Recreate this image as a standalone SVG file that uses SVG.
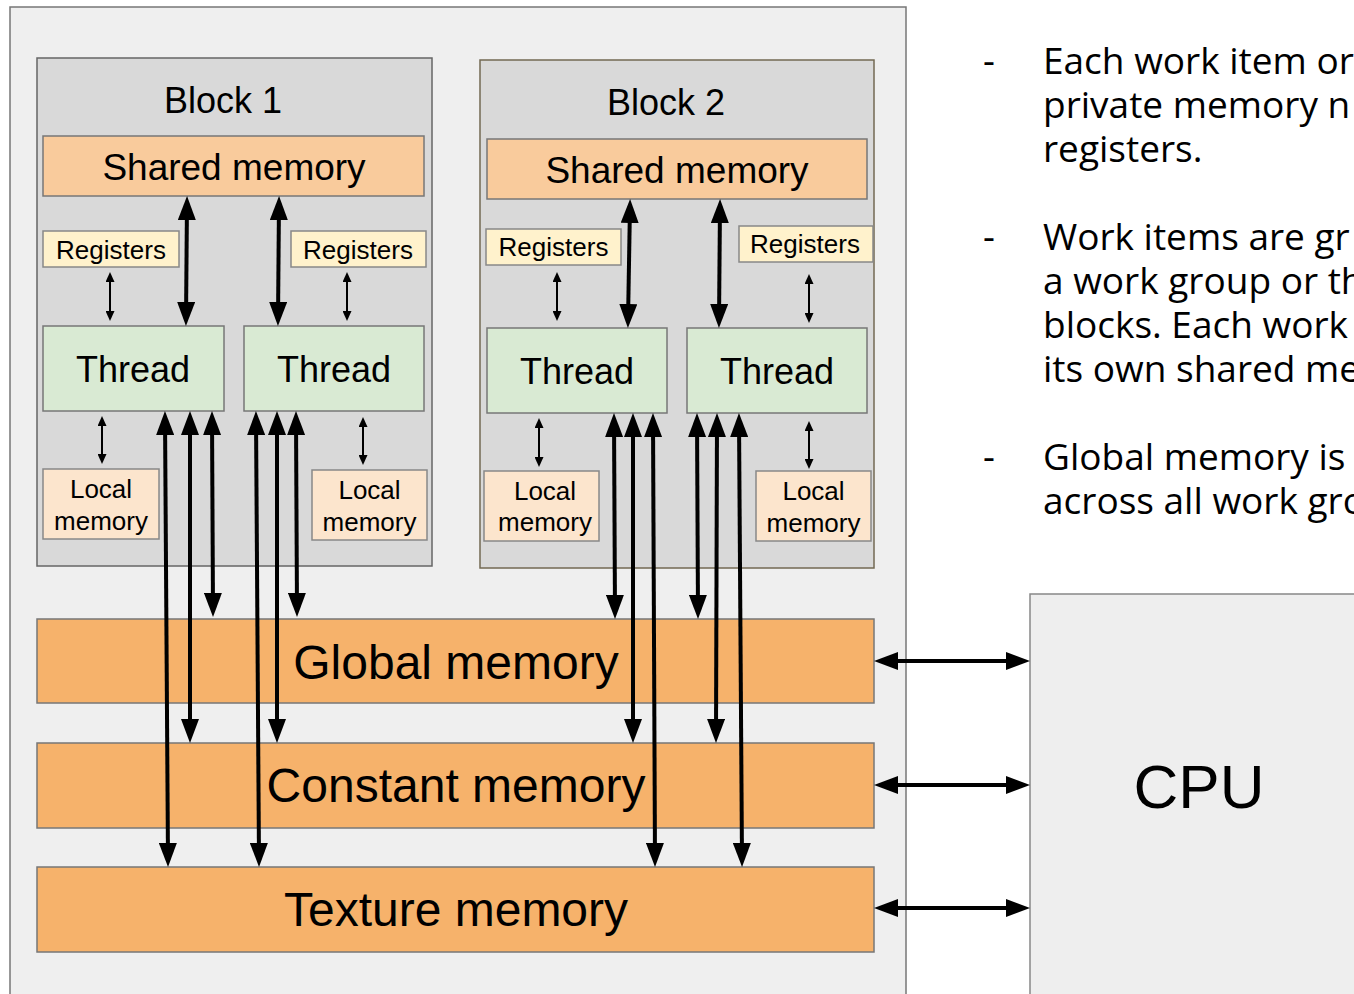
<svg xmlns="http://www.w3.org/2000/svg" width="1354" height="994" viewBox="0 0 1354 994">
  <defs>
    <style>
      .lbl { font-family: "Liberation Sans", Arial, sans-serif; fill: #000; text-anchor: middle; }
      .note { font-family: "Open Sans", "Noto Sans", sans-serif; font-size: 37px; fill: #000; }
      .gpu { fill: #efefef; stroke: #777; stroke-width: 1.5; }
      .block { fill: #d9d9d9; stroke: #666; stroke-width: 1.5; }
      .shared { fill: #f9cb9c; stroke: #777; stroke-width: 1.5; }
      .reg { fill: #fff2cc; stroke: #888; stroke-width: 1.5; }
      .thread { fill: #d9ead3; stroke: #777; stroke-width: 1.5; }
      .local { fill: #fce5cd; stroke: #888; stroke-width: 1.5; }
      .mem { fill: #f6b26b; stroke: #777; stroke-width: 1.5; }
      .cpu { fill: #eeeeee; stroke: #888; stroke-width: 1.5; }
      .big { stroke: #000; stroke-width: 4; fill: none; marker-start: url(#headBig); marker-end: url(#headBig); }
      .small { stroke: #000; stroke-width: 2; fill: none; marker-start: url(#headSmall); marker-end: url(#headSmall); }
    </style>
    <marker id="headBig" markerUnits="userSpaceOnUse" markerWidth="24" markerHeight="18" refX="18" refY="9" orient="auto-start-reverse">
      <path d="M0,0 L24,9 L0,18 z" fill="#000"/>
    </marker>
    <marker id="headSmall" markerUnits="userSpaceOnUse" markerWidth="10" markerHeight="9" refX="7" refY="4.5" orient="auto-start-reverse">
      <path d="M0,0 L10,4.5 L0,9 z" fill="#000"/>
    </marker>
  </defs>

  <rect width="1354" height="994" fill="#ffffff"/>

  <!-- GPU enclosure -->
  <g id="gpu">
    <rect class="gpu" x="10" y="7" width="896" height="1000"/>
  </g>

  <!-- Block 1 -->
  <g id="block1">
    <rect class="block" x="37" y="58" width="395" height="508"/>
    <text class="lbl" x="223" y="113" font-size="36">Block 1</text>
  </g>
  <g id="shared1">
    <rect class="shared" x="43" y="136" width="381" height="60"/>
    <text class="lbl" x="234" y="180" font-size="37">Shared memory</text>
  </g>
  <g id="reg1a">
    <rect class="reg" x="43" y="231" width="136" height="36"/>
    <text class="lbl" x="111" y="259" font-size="26">Registers</text>
  </g>
  <g id="reg1b">
    <rect class="reg" x="291" y="231" width="135" height="36"/>
    <text class="lbl" x="358" y="259" font-size="26">Registers</text>
  </g>
  <g id="thread1a">
    <rect class="thread" x="43" y="326" width="181" height="85"/>
    <text class="lbl" x="133" y="382" font-size="36">Thread</text>
  </g>
  <g id="thread1b">
    <rect class="thread" x="244" y="326" width="180" height="85"/>
    <text class="lbl" x="334" y="382" font-size="36">Thread</text>
  </g>
  <g id="local1a">
    <rect class="local" x="43" y="469" width="116" height="70"/>
    <text class="lbl" x="101" y="498" font-size="26">Local</text>
    <text class="lbl" x="101" y="530" font-size="26">memory</text>
  </g>
  <g id="local1b">
    <rect class="local" x="312" y="470" width="115" height="70"/>
    <text class="lbl" x="369.5" y="499" font-size="26">Local</text>
    <text class="lbl" x="369.5" y="531" font-size="26">memory</text>
  </g>

  <!-- Block 2 -->
  <g id="block2">
    <rect class="block" x="480" y="60" width="394" height="508" style="stroke:#736953"/>
    <text class="lbl" x="666" y="115" font-size="36">Block 2</text>
  </g>
  <g id="shared2">
    <rect class="shared" x="487" y="139" width="380" height="60"/>
    <text class="lbl" x="677" y="183" font-size="37">Shared memory</text>
  </g>
  <g id="reg2a">
    <rect class="reg" x="486" y="229" width="135" height="36"/>
    <text class="lbl" x="553.5" y="256" font-size="26">Registers</text>
  </g>
  <g id="reg2b">
    <rect class="reg" x="739" y="226" width="134" height="36"/>
    <text class="lbl" x="805" y="253" font-size="26">Registers</text>
  </g>
  <g id="thread2a">
    <rect class="thread" x="487" y="328" width="180" height="85"/>
    <text class="lbl" x="577" y="384" font-size="36">Thread</text>
  </g>
  <g id="thread2b">
    <rect class="thread" x="687" y="328" width="180" height="85"/>
    <text class="lbl" x="777" y="384" font-size="36">Thread</text>
  </g>
  <g id="local2a">
    <rect class="local" x="484" y="471" width="115" height="70"/>
    <text class="lbl" x="545" y="500" font-size="26">Local</text>
    <text class="lbl" x="545" y="531" font-size="26">memory</text>
  </g>
  <g id="local2b">
    <rect class="local" x="756" y="471" width="115" height="70"/>
    <text class="lbl" x="813.5" y="500" font-size="26">Local</text>
    <text class="lbl" x="813.5" y="532" font-size="26">memory</text>
  </g>

  <!-- Device-wide memories -->
  <g id="global">
    <rect class="mem" x="37" y="619" width="837" height="84"/>
    <text class="lbl" x="456" y="679" font-size="48">Global memory</text>
  </g>
  <g id="constant">
    <rect class="mem" x="37" y="743" width="837" height="85"/>
    <text class="lbl" x="456" y="802" font-size="48">Constant memory</text>
  </g>
  <g id="texture">
    <rect class="mem" x="37" y="867" width="837" height="85"/>
    <text class="lbl" x="456" y="926" font-size="48">Texture memory</text>
  </g>

  <!-- Host -->
  <g id="cpu">
    <rect class="cpu" x="1030" y="594" width="340" height="420"/>
    <text class="lbl" x="1199" y="808" font-size="62">CPU</text>
  </g>

  <!-- Connectors (line ends sit 6px / 3px short of the targets; heads reach them) -->
  <g id="connectors">
    <!-- shared memory <-> threads -->
    <line class="big" x1="187" y1="202" x2="186" y2="320"/>
    <line class="big" x1="279" y1="202" x2="278" y2="320"/>
    <line class="big" x1="630" y1="205" x2="628" y2="322"/>
    <line class="big" x1="720" y1="205" x2="719" y2="322"/>

    <!-- registers <-> threads -->
    <line class="small" x1="110" y1="275" x2="110" y2="318"/>
    <line class="small" x1="347" y1="275" x2="347" y2="318"/>
    <line class="small" x1="557" y1="275" x2="557" y2="318"/>
    <line class="small" x1="809" y1="277" x2="809" y2="320"/>

    <!-- threads <-> local memory -->
    <line class="small" x1="102" y1="419" x2="102" y2="461"/>
    <line class="small" x1="363" y1="420" x2="363" y2="462"/>
    <line class="small" x1="539" y1="421" x2="539" y2="464"/>
    <line class="small" x1="809" y1="424" x2="809" y2="466"/>

    <!-- block 1 threads <-> device memories -->
    <line class="big" x1="165" y1="417" x2="168" y2="861"/>
    <line class="big" x1="190" y1="417" x2="190" y2="737"/>
    <line class="big" x1="212" y1="417" x2="213" y2="611"/>
    <line class="big" x1="256" y1="417" x2="259" y2="861"/>
    <line class="big" x1="277" y1="417" x2="277" y2="737"/>
    <line class="big" x1="296" y1="417" x2="297" y2="611"/>

    <!-- block 2 threads <-> device memories -->
    <line class="big" x1="614" y1="419" x2="615" y2="613"/>
    <line class="big" x1="633" y1="419" x2="633" y2="737"/>
    <line class="big" x1="653" y1="419" x2="655" y2="861"/>
    <line class="big" x1="697" y1="419" x2="698" y2="613"/>
    <line class="big" x1="717" y1="419" x2="716" y2="737"/>
    <line class="big" x1="739" y1="419" x2="742" y2="861"/>

    <!-- device memories <-> CPU -->
    <line class="big" x1="880" y1="661" x2="1024" y2="661"/>
    <line class="big" x1="880" y1="785" x2="1024" y2="785"/>
    <line class="big" x1="880" y1="908" x2="1024" y2="908"/>
  </g>

  <!-- Notes -->
  <g id="notes">
    <text class="note" x="983" y="74">-</text>
    <text class="note" x="1043" y="74">Each work item or</text>
    <text class="note" x="1043" y="118">private memory n</text>
    <text class="note" x="1043" y="162">registers.</text>

    <text class="note" x="983" y="250">-</text>
    <text class="note" x="1043" y="250">Work items are gr</text>
    <text class="note" x="1043" y="294">a work group or th</text>
    <text class="note" x="1043" y="338">blocks. Each work</text>
    <text class="note" x="1043" y="382">its own shared me</text>

    <text class="note" x="983" y="470">-</text>
    <text class="note" x="1043" y="470">Global memory is</text>
    <text class="note" x="1043" y="514">across all work gro</text>
  </g>
</svg>
